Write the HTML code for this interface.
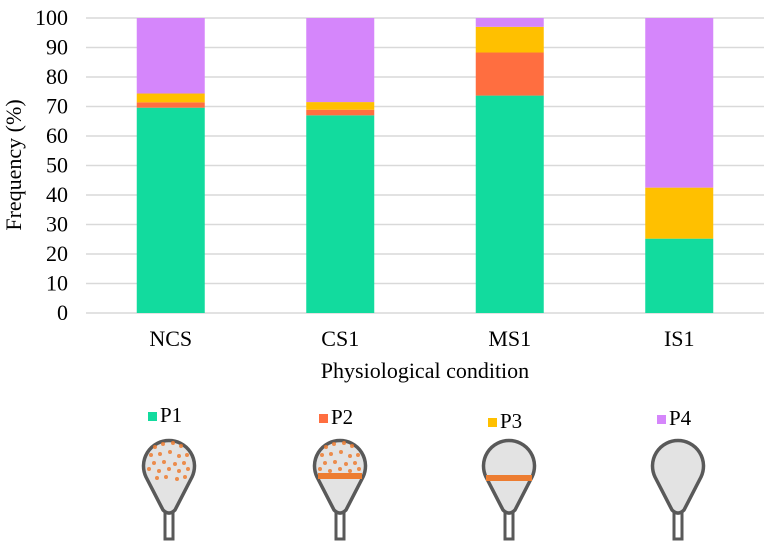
<!DOCTYPE html>
<html><head><meta charset="utf-8"><style>
html,body{margin:0;padding:0;background:#fff;}
svg{display:block;}
svg text{font-family:"Liberation Serif","Times New Roman","DejaVu Serif",serif;}
</style></head><body>
<svg id="chart" width="775" height="549" viewBox="0 0 775 549">
<g id="grid"></g>
<g id="bars"></g>
<g id="yticks"></g>
<g id="xticks"></g>
<text style="font-family:'Liberation Serif','DejaVu Serif',serif" transform="translate(21,165) rotate(-90)" text-anchor="middle" font-size="22" fill="#000">Frequency (%)</text>
<text style="font-family:'Liberation Serif','DejaVu Serif',serif" x="425" y="378" text-anchor="middle" font-size="22" fill="#000">Physiological condition</text>
<g id="legend"></g>
<g id="icons"></g>
</svg>
<script>
const categories = ["NCS","CS1","MS1","IS1"];
const seriesNames = ["P1","P2","P3","P4"];
const p1 = [69.6, 67.0, 73.7, 25.2];
const p2 = [1.8, 1.9, 14.6, 0];
const p3 = [3.0, 2.6, 8.7, 17.3];
const p4 = [25.6, 28.5, 3.0, 57.5];
const yTicks = [0,10,20,30,40,50,60,70,80,90,100];
const colors = ["#12DB9E","#FF6E40","#FFC000","#D586FB"];
const series = [p1,p2,p3,p4];
const NS="http://www.w3.org/2000/svg";
const FSTYLE="font-family:'Liberation Serif','DejaVu Serif',serif";
const plotL=86, plotR=764, plotT=18, plotB=313;
const y = v => plotB - v/100*(plotB-plotT);
const band = (plotR-plotL)/categories.length;
const xc = i => plotL + band*(i+0.5);
const barW = 68;
function mk(tag, attrs, parent){const e=document.createElementNS(NS,tag);for(const k in attrs)e.setAttribute(k,attrs[k]);parent.appendChild(e);return e;}
const grid=document.getElementById('grid'), yt=document.getElementById('yticks');
yTicks.forEach(t=>{
  const l=mk('line',{x1:plotL,x2:plotR,y1:y(t),y2:y(t),stroke:'#d9d9d9','stroke-width':1.5},grid);
  
  
  const tx=mk('text',{x:68,y:y(t)+7,'text-anchor':'end','font-size':22,fill:'#000',style:FSTYLE},yt);
  tx.textContent=t;
  
  
});
const bars=document.getElementById('bars'), xt=document.getElementById('xticks');
categories.forEach((c,i)=>{
  let cum=0;
  series.forEach((s,j)=>{
    const v=s[i]; if(v<=0){return;}
    const r=mk('rect',{x:xc(i)-barW/2,y:y(cum+v),width:barW,height:y(cum)-y(cum+v),fill:colors[j]},bars);
    
    
    cum+=v;
  });
  const tx=mk('text',{x:xc(i),y:346,'text-anchor':'middle','font-size':22,fill:'#000',style:FSTYLE},xt);
  tx.textContent=c;
  
  
});
const leg=document.getElementById('legend'), icons=document.getElementById('icons');
const legPos=[[148,412],[319,414],[488,418],[657,415]];
const bulbX=[169,340,509,678];
seriesNames.forEach((n,i)=>{
  const [lx,ly]=legPos[i];
  const sq=mk('rect',{x:lx,y:ly,width:9,height:9,fill:colors[i]},leg);
  
  
  const t=mk('text',{x:lx+12,y:ly+10,'font-size':21,fill:'#000',style:FSTYLE},leg);
  t.textContent=n;
  
  
  const g=mk('g',{transform:'translate('+bulbX[i]+',0)'},icons);
  
  
  mk('rect',{x:-4,y:510,width:8,height:29,fill:'#fff',stroke:'#595959','stroke-width':3},g);
  mk('path',{d:'M -6 510 L -23 477 A 25.5 25.5 0 1 1 23 477 L 6 510 Q 0 516 -6 510 Z',fill:'#e3e3e3',stroke:'#595959','stroke-width':3.5,'stroke-linejoin':'round'},g);
  if(i<2){
    const dots=[[-14,447],[-6,444],[4,443],[12,446],[-18,455],[-9,454],[1,452],[10,456],[18,455],[-15,463],[-5,462],[6,464],[15,463],[-20,469],[-10,471],[0,469],[10,471],[19,469],[-12,478],[-3,477],[8,479],[16,477]];
    dots.forEach(([dx,dy])=>{ if(i===1 && dy>472) return; mk('circle',{cx:dx,cy:dy,r:2,fill:'#ED7D31',opacity:0.85},g);});
  }
  if(i===1) mk('rect',{x:-22,y:473,width:44,height:6,fill:'#ED7D31'},g);
  if(i===2) mk('rect',{x:-23,y:475,width:46,height:6,fill:'#ED7D31'},g);
});
</script>
</body></html>
